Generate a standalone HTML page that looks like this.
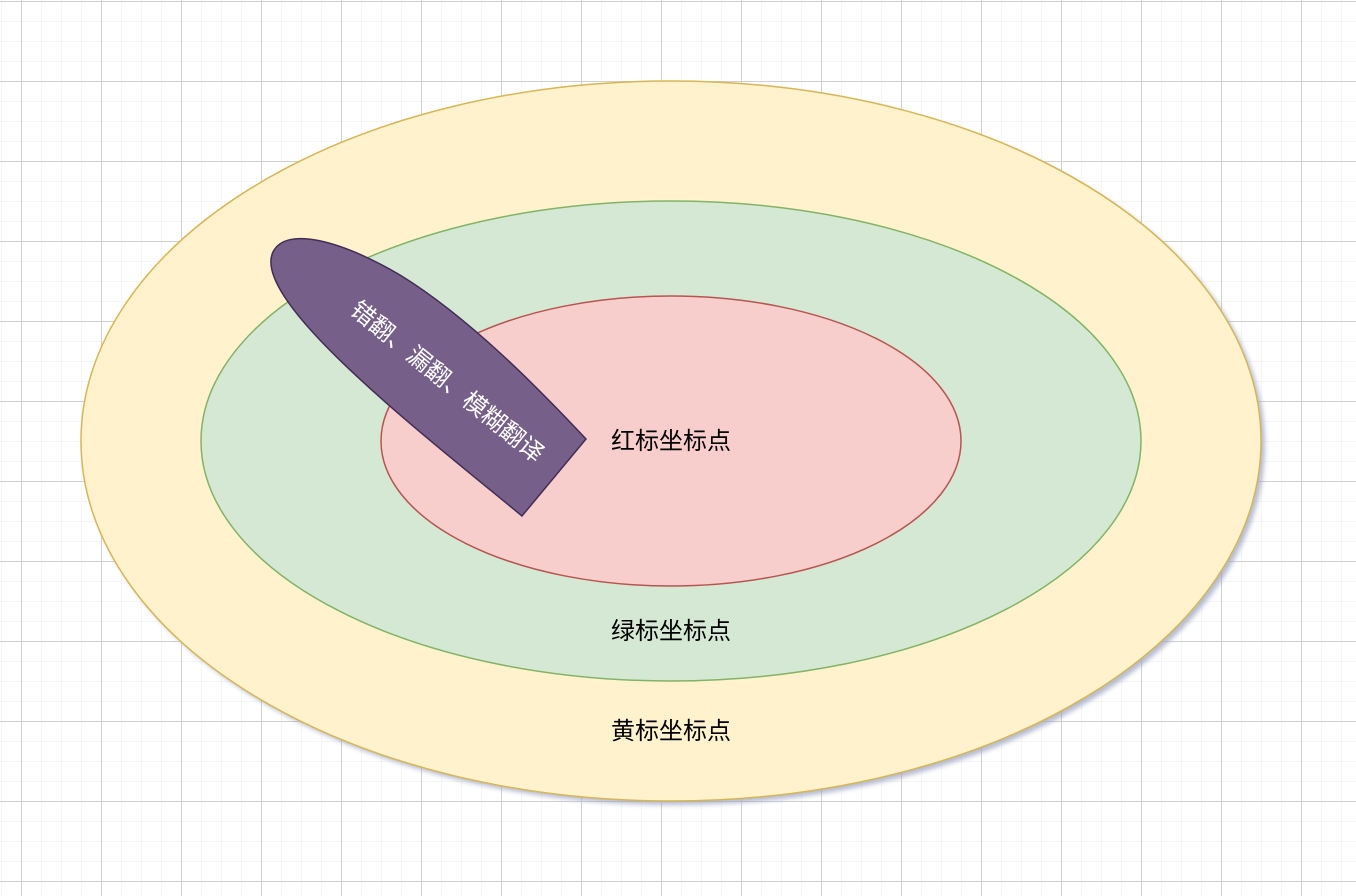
<!DOCTYPE html>
<html><head><meta charset="utf-8"><style>
html,body{margin:0;padding:0;background:#fff;}
svg{display:block;font-family:"Liberation Sans","Noto Sans CJK SC",sans-serif;}
</style></head><body>
<svg width="1356" height="896" viewBox="0 0 1356 896">
<defs>
<pattern id="minor" width="20" height="20" patternUnits="userSpaceOnUse" x="1" y="1">
<path d="M0 0H20M0 0V20" stroke="#efefef" stroke-width="1.2" fill="none"/>
</pattern>
<pattern id="major" width="80" height="80" patternUnits="userSpaceOnUse" x="21" y="1">
<path d="M0 0.5H80M0.5 0V80" stroke="#d0d0d0" stroke-width="1" fill="none"/>
</pattern>
<filter id="sh" x="-10%" y="-10%" width="130%" height="130%"><feGaussianBlur stdDeviation="2.5"/></filter>
</defs>
<rect width="1356" height="896" fill="url(#minor)"/>
<rect width="1356" height="896" fill="url(#major)"/>
<ellipse cx="675" cy="445" rx="590" ry="360" fill="#9aa0c0" opacity="0.7" filter="url(#sh)"/>
<ellipse cx="671" cy="441" rx="590" ry="360" fill="#fff2cc" stroke="#d6b656" stroke-width="1.5"/>
<ellipse cx="671" cy="441" rx="470" ry="240" fill="#d5e8d4" stroke="#82b366" stroke-width="1.5"/>
<ellipse cx="671" cy="441" rx="290" ry="145" fill="#f8cecc" stroke="#b85450" stroke-width="1.5"/>
<text x="671" y="449" font-size="24" text-anchor="middle" fill="#000">红标坐标点</text>
<text x="671" y="639" font-size="24" text-anchor="middle" fill="#000">绿标坐标点</text>
<text x="671" y="739" font-size="24" text-anchor="middle" fill="#000">黄标坐标点</text>
<path d="M586 439 L522 516 C420 432 250 300 273 252 C286 226 340 240 400 275 C470 318 540 390 586 439 Z" fill="#76608a" stroke="#432d57" stroke-width="1.5"/>
<text x="0" y="0" font-size="24" fill="#fff" text-anchor="middle" transform="translate(442 388) rotate(39)">错翻、漏翻、模糊翻译</text>
</svg>
</body></html>
